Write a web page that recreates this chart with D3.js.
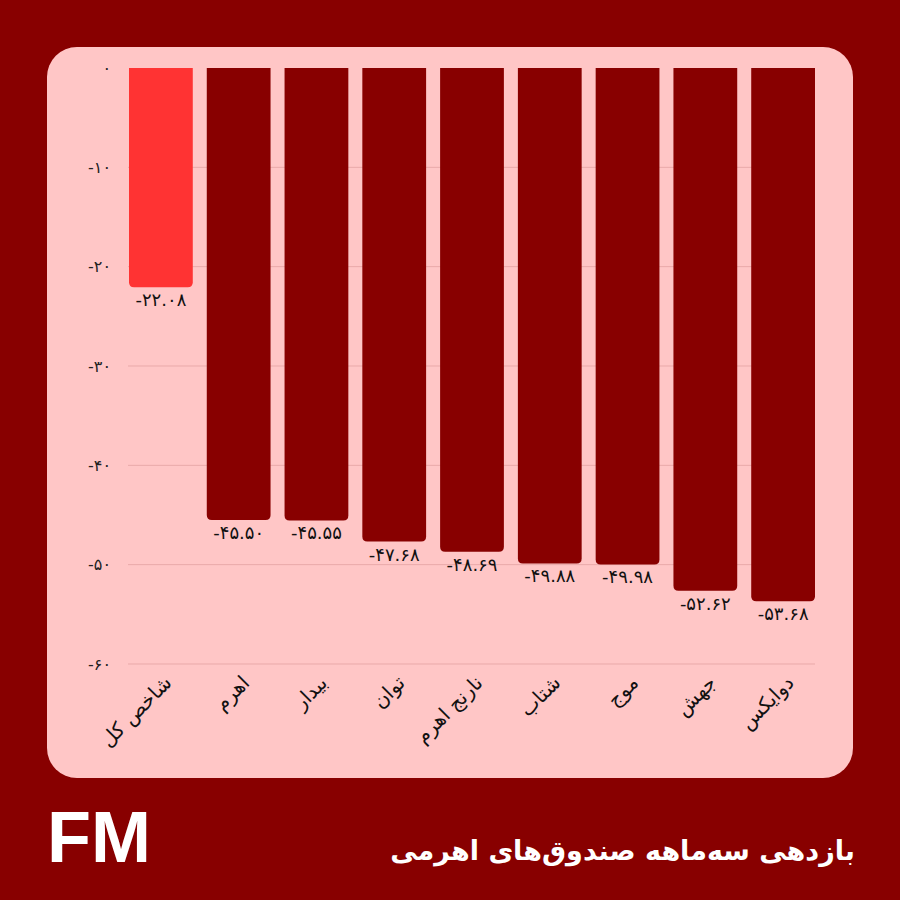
<!DOCTYPE html>
<html><head><meta charset="utf-8">
<script src="https://cdn.jsdelivr.net/npm/d3@7"></script>
<style>html,body{margin:0;padding:0;background:#880000;}svg{display:block}</style>
</head><body>
<svg id="chart" width="900" height="900"></svg>
<script>
const categories = ["شاخص کل","اهرم","بیدار","توان","نارنج اهرم","شتاب","موج","جهش","دوایکس"];
const values = [-22.08,-45.50,-45.55,-47.68,-48.69,-49.88,-49.98,-52.62,-53.68];
const valueLabels = ["-۲۲.۰۸","-۴۵.۵۰","-۴۵.۵۵","-۴۷.۶۸","-۴۸.۶۹","-۴۹.۸۸","-۴۹.۹۸","-۵۲.۶۲","-۵۳.۶۸"];
const yTicks = [0,-10,-20,-30,-40,-50,-60];
const yTickLabels = ["۰","-۱۰","-۲۰","-۳۰","-۴۰","-۵۰","-۶۰"];
const title = "بازدهی سه‌ماهه صندوق‌های اهرمی";
const logo = "FM";

const svg = d3.select("#chart");
svg.append("rect").attr("width",900).attr("height",900).attr("fill","#880000");
svg.append("rect").attr("x",47).attr("y",47).attr("width",806).attr("height",731).attr("rx",30).attr("fill","#FFC6C6");

const x = d3.scaleBand().domain(categories).range([122,822]).paddingInner(0.18).paddingOuter(0.09);
const y = d3.scaleLinear().domain([0,-60]).range([68,664]);

// gridlines
svg.append("g").selectAll("line").data(yTicks.slice(1)).join("line")
  .attr("x1",128).attr("x2",815).attr("y1",d=>y(d)).attr("y2",d=>y(d))
  .attr("stroke","#e9a9a9").attr("stroke-width",1);

// y labels
svg.append("g").selectAll("text").data(yTicks).join("text")
  .attr("x",111).attr("y",d=>y(d)).attr("dy","0.35em")
  .attr("text-anchor","end").attr("direction","ltr")
  .attr("font-family","DejaVu Sans").attr("font-size",16).attr("fill","#222")
  .text((d,i)=>yTickLabels[i]);

// bars with rounded bottom corners
const r = 5;
svg.append("g").selectAll("path").data(values).join("path")
  .attr("d",(v,i)=>{
    const x0 = x(categories[i]), w = x.bandwidth(), y0 = y(0), y1 = y(v);
    return `M${x0},${y0}H${x0+w}V${y1-r}Q${x0+w},${y1} ${x0+w-r},${y1}H${x0+r}Q${x0},${y1} ${x0},${y1-r}Z`;
  })
  .attr("fill",(v,i)=>i===0?"#FF3333":"#880000");

// value labels
svg.append("g").selectAll("text").data(values).join("text")
  .attr("x",(v,i)=>x(categories[i])+x.bandwidth()/2).attr("y",v=>y(v)+19)
  .attr("text-anchor","middle").attr("direction","ltr")
  .attr("font-family","DejaVu Sans").attr("font-size",18).attr("fill","#111")
  .text((v,i)=>valueLabels[i]);

// x labels
svg.append("g").selectAll("text").data(categories).join("text")
  .attr("transform",d=>`translate(${x(d)+x.bandwidth()/2+12},${684}) rotate(-45)`)
  .attr("text-anchor","end").attr("direction","ltr")
  .attr("font-family","DejaVu Sans").attr("font-size",20).attr("fill","#111")
  .text(d=>d);

// footer
svg.append("text").attr("x",47).attr("y",862).attr("font-family","Liberation Sans, Arial").attr("font-weight","bold")
  .attr("font-size",72).attr("fill","#fff").text(logo);
svg.append("text").attr("x",855).attr("y",860).attr("text-anchor","end").attr("direction","ltr")
  .attr("font-family","DejaVu Sans").attr("font-weight","bold").attr("font-size",27).attr("fill","#fff").text(title);
</script>
</body></html>
